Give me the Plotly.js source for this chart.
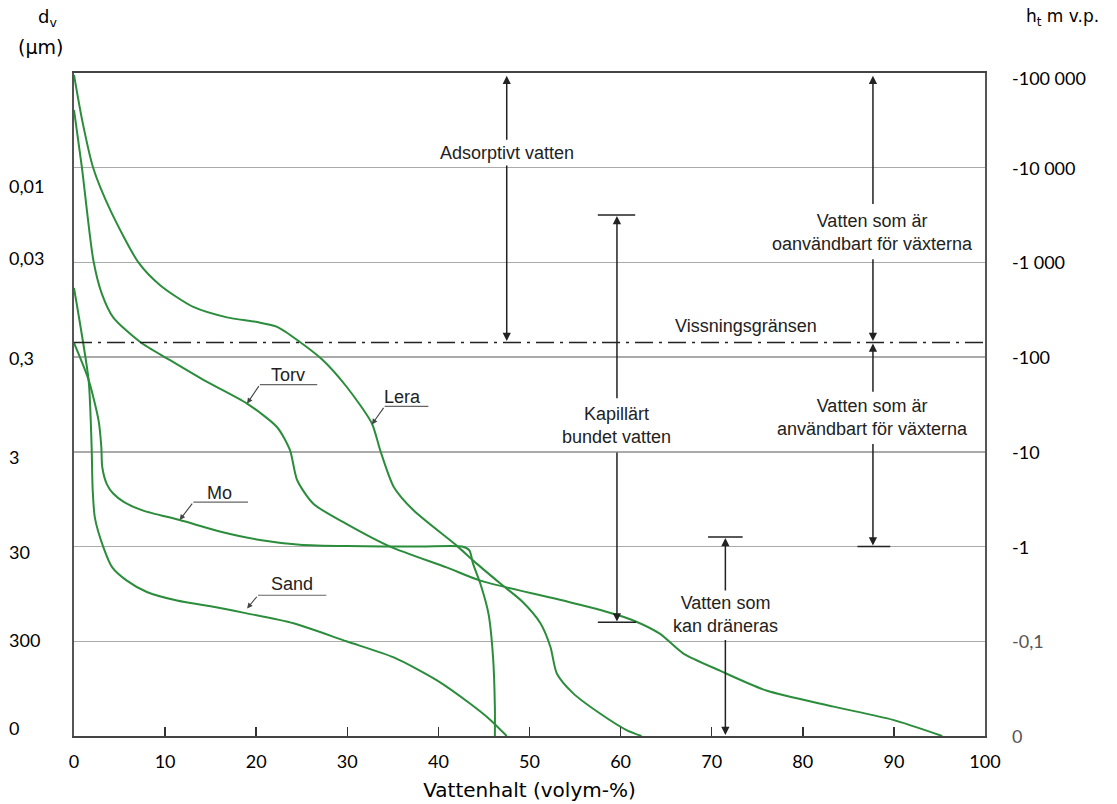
<!DOCTYPE html>
<html>
<head>
<meta charset="utf-8">
<script src="https://cdn.plot.ly/plotly-3.0.1.min.js"></script>
<style>html,body{margin:0;padding:0;background:#fff;}#chart{width:1117px;height:804px;}</style>
</head>
<body>
<div id="chart"></div>
<script>
// ---- data (y is the decade index: 0 = bottom, 7 = top) ----
const xTickVals = [0,10,20,30,40,50,60,70,80,90,100];
const xTickText = ['0','10','20','30','40','50','60','70','80','90','100'];
const gridLevels = [1,2,3,4,5,6];
const leftLabels = ['0,01','0,03','0,3','3','30','300','0'];
const leftLabelPos = [5.81,5.05,3.99,2.95,1.94,1.01,0.08];
const rightLabels = ['-100 000','-10 000','-1 000','-100','-10','-1','-0,1','0'];
const rightLabelPos = [6.95,6,5,4,3,2,1,0];
const wiltingLevel = 4.155;

const leraX = [0,0.9,2.1,4.0,7.07,9.45,13.1,16.8,20.1,22.3,24.8,27.3,29.9,32.7,33.6,35.1,37.3,42.0,44.2,46.8,49.2,51.2,52.3,53.0,54.8,57.7,60.7,62.3];
const leraY = [6.98,6.5,6.0,5.55,5.0,4.76,4.53,4.42,4.37,4.32,4.16,3.97,3.69,3.30,3.02,2.63,2.38,2.01,1.82,1.61,1.42,1.19,0.94,0.66,0.45,0.24,0.06,0];

const torvX = [0,0.86,2.13,3.05,4.3,7.26,10.5,14.2,19.0,22.3,23.7,24.5,26.3,29.9,34.7,40.9,44.6,53.7,57.8,61.4,64.3,66.9,70.9,76.0,83.4,89.9,95.3];
const torvY = [6.61,6.01,5.02,4.67,4.42,4.16,3.97,3.76,3.51,3.26,3.02,2.70,2.45,2.24,2.0,1.78,1.64,1.43,1.33,1.22,1.08,0.87,0.69,0.48,0.31,0.17,0];

const moX = [0,1.6,2.7,3.0,3.1,3.6,4.3,5.5,7.6,11.6,16.0,20.4,24.8,30.0,38.0,42.6,43.4,43.8,44.6,45.5,46.0,46.2,46.2];
const moY = [4.15,3.76,3.33,3.05,2.84,2.66,2.56,2.47,2.38,2.28,2.16,2.07,2.02,2.005,2.0,2.0,1.96,1.82,1.61,1.29,0.83,0.3,0];

const sandX = [0,1.6,1.85,1.95,2.05,2.3,3.2,4.2,5.8,8.0,11.3,15.0,18.7,24.1,29.9,35.1,39.8,43.5,45.7,47.5];
const sandY = [4.73,3.76,3.3,3.0,2.6,2.3,2.0,1.78,1.64,1.52,1.43,1.37,1.30,1.19,1.0,0.83,0.59,0.34,0.17,0];

const soilNames = ['Torv','Lera','Mo','Sand'];
const soilLabelX = [23.5,36.1,16.0,23.9];
const soilLabelY = [3.81,3.58,2.57,1.61];
const soilLineX0 = [20.4,34.1,13.1,20.2];
const soilLineX1 = [26.7,38.9,19.1,27.7];
const soilLineY  = [3.71,3.48,2.47,1.486];
const soilTipX = [19.0,32.7,11.6,19.0];
const soilTipY = [3.51,3.29,2.28,1.345];

const zoneTexts = ['Adsorptivt vatten','Kapillärt<br>bundet vatten','Vatten som<br>kan dräneras','Vatten som är<br>oanvändbart för växterna','Vatten som är<br>användbart för växterna'];
const zoneX = [47.5,59.6,71.5,87.7,87.7];
const zoneTextY = [6.16,3.28,1.28,5.32,3.36];
const zoneTop = [6.97,5.49,2.09,6.97,4.145];
const zoneTopGap = [6.28,3.55,1.52,5.60,3.62];
const zoneBotGap = [6.04,3.01,1.03,5.05,3.10];
const zoneBottom = [4.17,1.21,0.01,4.17,2.01];
const capY = [5.50,1.20,2.10,2.0];
const capX0 = [57.5,57.5,69.6,86.0];
const capX1 = [61.6,61.7,73.4,89.6];

// ---- traces ----
const green = '#2b8d3b';
function curve(x,y,name){
  return {x:x,y:y,name:name,mode:'lines',type:'scatter',line:{color:green,width:2,shape:'spline',smoothing:0.7},hoverinfo:'skip'};
}
const data = [curve(leraX,leraY,'Lera'),curve(torvX,torvY,'Torv'),curve(moX,moY,'Mo'),curve(sandX,sandY,'Sand')];

// ---- shapes ----
const shapes = [];
shapes.push({type:'line',xref:'paper',x0:0,x1:1,yref:'y',y0:wiltingLevel,y1:wiltingLevel,line:{color:'#222',width:1.5,dash:'18px,6px,3px,6px'}});
for(let i=0;i<capY.length;i++){
  shapes.push({type:'line',xref:'x',yref:'y',x0:capX0[i],x1:capX1[i],y0:capY[i],y1:capY[i],line:{color:'#222',width:1.5}});
}
for(let i=0;i<soilNames.length;i++){
  shapes.push({type:'line',xref:'x',yref:'y',x0:soilLineX0[i],x1:soilLineX1[i],y0:soilLineY[i],y1:soilLineY[i],line:{color:'#666',width:1.2}});
}

// ---- annotations ----
const ann = [];
const txtFont = {family:'Liberation Sans, Arial, sans-serif',size:18,color:'#222'};
const numFont = {family:'Lato, sans-serif',size:18,color:'#000'};
const wordFont = {family:'DejaVu Sans, sans-serif',size:19,color:'#000'};
function arrow(x,yTip,yTail){
  return {xref:'x',yref:'y',axref:'x',ayref:'y',x:x,y:yTip,ax:x,ay:yTail,text:'',showarrow:true,arrowhead:2,arrowsize:1.1,arrowwidth:1.5,arrowcolor:'#222'};
}
for(let i=0;i<zoneTexts.length;i++){
  ann.push(arrow(zoneX[i],zoneTop[i],zoneTopGap[i]));
  ann.push(arrow(zoneX[i],zoneBottom[i],zoneBotGap[i]));
  ann.push({xref:'x',yref:'y',x:zoneX[i],y:zoneTextY[i],text:zoneTexts[i],showarrow:false,font:txtFont,xanchor:'center',yanchor:'middle'});
}
ann.push({xref:'x',yref:'y',x:73.8,y:4.33,text:'Vissningsgränsen',showarrow:false,font:txtFont,xanchor:'center',yanchor:'middle'});
for(let i=0;i<soilNames.length;i++){
  ann.push({xref:'x',yref:'y',x:soilLabelX[i],y:soilLabelY[i],text:soilNames[i],showarrow:false,font:txtFont,xanchor:'center',yanchor:'middle'});
  ann.push({xref:'x',yref:'y',axref:'x',ayref:'y',x:soilTipX[i],y:soilTipY[i],ax:soilLineX0[i],ay:soilLineY[i],text:'',showarrow:true,arrowhead:2,arrowsize:1,arrowwidth:1.1,arrowcolor:'#444'});
}
for(let i=0;i<leftLabels.length;i++){
  ann.push({xref:'paper',yref:'y',x:-0.0735,y:leftLabelPos[i],text:leftLabels[i],showarrow:false,font:numFont,xanchor:'left',yanchor:'middle'});
}
for(let i=0;i<rightLabels.length;i++){
  const light = (i>=6);
  ann.push({xref:'paper',yref:'y',x:1.0274,y:rightLabelPos[i],text:rightLabels[i],showarrow:false,font:{family:numFont.family,size:numFont.size,color:light?'#555':'#000'},xanchor:'left',yanchor:'middle'});
}
ann.push({xref:'paper',yref:'paper',x:-0.0296,y:1.083,text:'d<sub>v</sub>',showarrow:false,font:{family:wordFont.family,size:18,color:'#000'},xanchor:'center',yanchor:'middle'});
ann.push({xref:'paper',yref:'paper',x:-0.0373,y:1.039,text:'(µm)',showarrow:false,font:wordFont,xanchor:'center',yanchor:'middle'});
ann.push({xref:'paper',yref:'paper',x:1.0856,y:1.083,text:'h<sub>t</sub> m v.p.',showarrow:false,font:{family:wordFont.family,size:17,color:'#000'},xanchor:'center',yanchor:'middle'});

const layout = {
  width:1117,height:804,
  margin:{l:74,r:132,t:73,b:68},
  paper_bgcolor:'#fff',plot_bgcolor:'#fff',
  showlegend:false,
  font:numFont,
  xaxis:{range:[0,100],tickvals:xTickVals,ticktext:xTickText,ticks:'inside',ticklen:9,tickwidth:1.5,tickcolor:'#333',
    showline:true,mirror:true,linecolor:'#444',linewidth:2,showgrid:false,zeroline:false,
    tickfont:numFont,ticklabelstandoff:8,
    title:{text:'Vattenhalt (volym-%)',font:{family:wordFont.family,size:20,color:'#000'},standoff:12}},
  yaxis:{range:[0,7],tickvals:gridLevels,showticklabels:false,ticks:'',showgrid:true,gridcolor:'#aaa',gridwidth:1.5,
    showline:true,mirror:true,linecolor:'#555',linewidth:2,zeroline:false},
  shapes:shapes,
  annotations:ann
};
Plotly.newPlot('chart',data,layout,{displayModeBar:false,staticPlot:true});
</script>
</body>
</html>
